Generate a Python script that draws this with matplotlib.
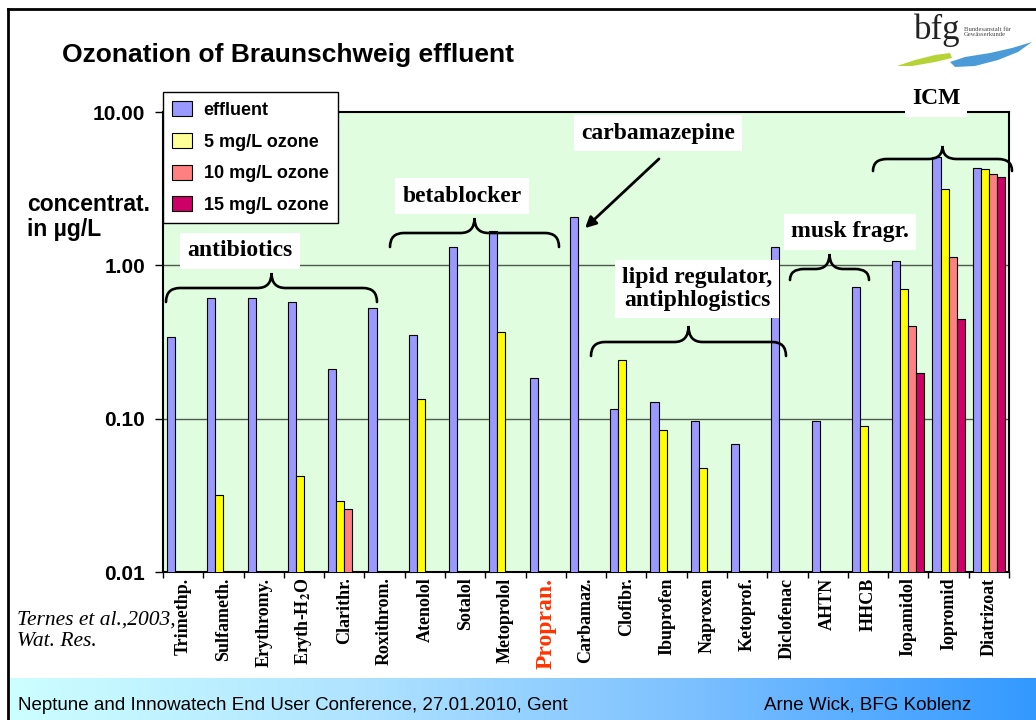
import numpy as np
import matplotlib
matplotlib.use("Agg")
import matplotlib.pyplot as plt
from matplotlib.patches import Patch, Polygon, PathPatch
from matplotlib.path import Path

plt.rcParams["mathtext.fontset"] = "stix"

# --- data (µg/L, log axis) ---
compounds = ["Trimethp.", "Sulfameth.", "Erythromy.", r"Eryth-H$_\mathbf{2}$O", "Clarithr.",
             "Roxithrom.", "Atenolol", "Sotalol", "Metoprolol", "Propran.", "Carbamaz.",
             "Clofibr.", "Ibuprofen", "Naproxen", "Ketoprof.", "Diclofenac", "AHTN", "HHCB",
             "Iopamidol", "Iopromid", "Diatrizoat"]
nan = np.nan
effluent = [0.34, 0.61, 0.61, 0.58, 0.21, 0.53, 0.35, 1.31, 1.67, 0.185, 2.08,
            0.115, 0.128, 0.097, 0.068, 1.31, 0.096, 0.72, 1.07, 5.1, 4.33]
ozone_5 = [nan, 0.032, nan, 0.042, 0.029, nan, 0.134, nan, 0.37, nan, nan,
           0.243, 0.084, 0.048, nan, nan, nan, 0.089, 0.70, 3.14, 4.26]
ozone_10 = [nan, nan, nan, nan, 0.0256, nan, nan, nan, nan, nan, nan,
            nan, nan, nan, nan, nan, nan, nan, 0.40, 1.14, 3.97]
ozone_15 = [nan, nan, nan, nan, nan, nan, nan, nan, nan, nan, nan,
            nan, nan, nan, nan, nan, nan, nan, 0.20, 0.447, 3.78]
series_labels = ["effluent", "5 mg/L ozone", "10 mg/L ozone", "15 mg/L ozone"]
y_ticks = [0.01, 0.1, 1, 10]
y_ticklabels = ["0.01", "0.10", "1.00", "10.00"]

SANS = "Liberation Sans"
SERIF = "Liberation Serif"
W, H = 1036, 720

fig = plt.figure(figsize=(W / 100, H / 100), dpi=100)
fig.patch.set_facecolor("white")

ax = fig.add_axes([163 / W, 1 - 572 / H, (1009 - 163) / W, (572 - 112) / H])
ax.set_facecolor("#E0FDE0")
ax.set_yscale("log")

x = np.arange(len(compounds))
colors = ["#9999FF", "#FFFF00", "#FF8080", "#CC0066"]
for k, vals in enumerate([effluent, ozone_5, ozone_10, ozone_15]):
    ax.bar(x - 0.3 + 0.2 * k, vals, width=0.2, color=colors[k], edgecolor="black",
           linewidth=0.8, zorder=3)

ax.set_ylim(0.01, 10)
ax.set_xlim(-0.5, len(compounds) - 0.5)
ax.set_yticks(y_ticks)
ax.set_yticklabels(y_ticklabels, fontfamily=SANS, fontweight="bold", fontsize=15)
ax.yaxis.set_minor_locator(matplotlib.ticker.NullLocator())
ax.tick_params(axis="y", direction="out", length=6, width=1, pad=7)
for yv in [0.1, 1]:
    ax.axhline(yv, color="#4F5A4F", linewidth=1.0, zorder=1)

ax.set_xticks(x)
ax.set_xticklabels(compounds, rotation=90, fontfamily=SERIF, fontweight="bold", fontsize=13)
ax.set_xticks(np.arange(len(compounds) + 1) - 0.5, minor=True)
ax.tick_params(axis="x", which="major", length=0, pad=4)
ax.tick_params(axis="x", which="minor", direction="out", length=4, width=1)
for lbl in ax.get_xticklabels():
    if lbl.get_text() == "Propran.":
        lbl.set_color("#FF3300")
        lbl.set_fontsize(17)
for sp in ax.spines.values():
    sp.set_linewidth(1.5)
    sp.set_color("black")

handles = [Patch(facecolor=c, edgecolor="black", linewidth=0.8)
           for c in ["#9999FF", "#FFFF99", "#FF8080", "#CC0066"]]
leg = ax.legend(handles, series_labels, loc="upper left", bbox_to_anchor=(163 / W, 1 - 92 / H),
                bbox_transform=fig.transFigure, frameon=True, fancybox=False, framealpha=1,
                edgecolor="black", borderaxespad=0, borderpad=0.5, handlelength=1.1,
                handleheight=0.9, handletextpad=0.65, labelspacing=0.78,
                prop={"family": SANS, "weight": "bold", "size": 13})
leg.get_frame().set_linewidth(1.0)

# --- overlay in slide pixel coordinates for the decorations ---
ov = fig.add_axes([0, 0, 1, 1], zorder=10)
ov.set_xlim(0, W)
ov.set_ylim(H, 0)
ov.axis("off")
ov.patch.set_alpha(0)

grad = np.linspace(0, 1, 256).reshape(1, -1)
cmap = matplotlib.colors.LinearSegmentedColormap.from_list(
    "foot", ["#CCFFFF", "#B0E4FF", "#7CC0FF", "#3399FF"])
ov.imshow(grad, extent=[9, W, H, 678], aspect="auto", cmap=cmap, zorder=0)
ov.set_xlim(0, W)
ov.set_ylim(H, 0)

ov.plot([8, 8], [9, H], color="black", lw=2)
ov.plot([8, W], [9, 9], color="black", lw=2)

ov.text(62, 55, "Ozonation of Braunschweig effluent", fontfamily=SANS, fontweight="bold",
        fontsize=19, va="center", ha="left")
ov.text(27, 217, "concentrat.\nin µg/L", fontfamily=SANS, fontweight="bold", fontsize=16.5,
        va="center", ha="left", linespacing=1.15)
ov.text(17, 631, "Ternes et al.,2003,\nWat. Res.", fontfamily=SERIF, style="italic",
        fontsize=15.5, va="center", ha="left", linespacing=1.2)

ov.text(18, 705, "Neptune and Innowatech End User Conference, 27.01.2010, Gent",
        fontfamily=SANS, fontsize=13.5, va="center", ha="left")
ov.text(764, 705, "Arne Wick, BFG Koblenz", fontfamily=SANS, fontsize=13.5,
        va="center", ha="left")

# logo
ov.add_patch(Polygon([(897, 66), (915, 60), (935, 55), (950, 53), (952, 58), (935, 62), (912, 66)],
                     closed=True, facecolor="#B5D334", edgecolor="none"))
ov.add_patch(Polygon([(950, 62), (965, 57), (990, 53), (1012, 48), (1032, 42), (1018, 52),
                      (998, 60), (975, 66), (955, 67)],
                     closed=True, facecolor="#4C9BD9", edgecolor="none"))
ov.text(937, 30, "bfg", fontfamily=SERIF, fontsize=25, ha="center", va="center", color="#222222")
ov.text(964, 32, "Bundesanstalt für\nGewässerkunde", fontfamily=SERIF, fontsize=4.8,
        ha="left", va="center", color="#444444", linespacing=1.1)


def brace(x0, x1, y_end, y_line, y_tip, r=14):
    xc = (x0 + x1) / 2
    verts = [(x0, y_end), (x0, y_line), (x0 + r, y_line), (xc - r, y_line), (xc, y_line),
             (xc, y_tip), (xc, y_line), (xc + r, y_line), (x1 - r, y_line), (x1, y_line),
             (x1, y_end)]
    codes = [Path.MOVETO, Path.CURVE3, Path.CURVE3, Path.LINETO, Path.CURVE3, Path.CURVE3,
             Path.CURVE3, Path.CURVE3, Path.LINETO, Path.CURVE3, Path.CURVE3]
    ov.add_patch(PathPatch(Path(verts, codes), facecolor="none", edgecolor="black",
                           lw=1.9, capstyle="round"))


box = dict(facecolor="white", edgecolor="none", boxstyle="square,pad=0.3")
lab = dict(fontfamily=SERIF, fontweight="bold", fontsize=17, ha="center", va="center",
           bbox=box)

brace(166, 377, 302, 288, 273)
ov.text(240, 251, "antibiotics", **lab)
brace(390, 559, 247, 233, 218)
ov.text(462, 196, "betablocker", **lab)
ov.text(658, 133, "carbamazepine", **lab)
ov.annotate("", xy=(583, 230), xytext=(661, 157),
            arrowprops=dict(arrowstyle="-|>", lw=2, color="black", mutation_scale=16))
brace(591, 786, 356, 342, 326)
ov.text(697, 289, "lipid regulator,\nantiphlogistics", linespacing=1.15, **lab)
brace(790, 869, 280, 269, 254)
ov.text(850, 232, "musk fragr.", **lab)
brace(873, 1012, 171, 159, 146)
ov.text(936, 99, "ICM", **lab)

fig.savefig("out.png", dpi=100, facecolor="white")
